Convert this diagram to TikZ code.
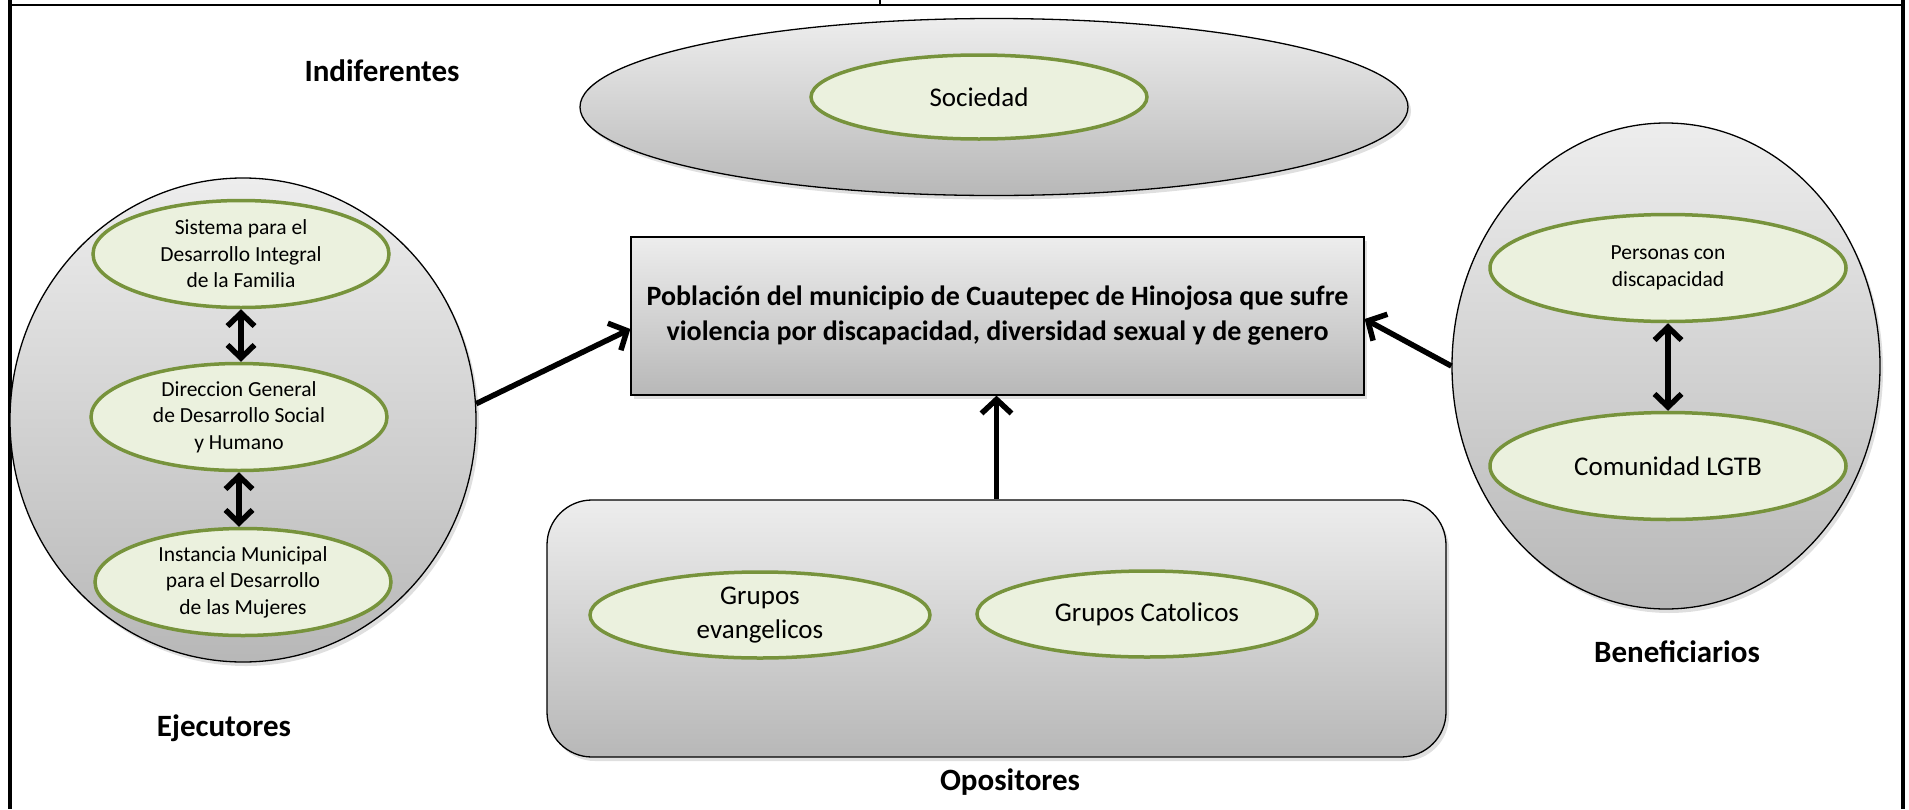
\documentclass[tikz,border=0pt]{standalone}
\usepackage{fontspec}
\setmainfont{Carlito}
\usetikzlibrary{arrows.meta}
\usetikzlibrary{shapes.geometric}
\usetikzlibrary{shadows}

\definecolor{hojaverde}{HTML}{EBF1DE}
\definecolor{bordeverde}{HTML}{77933C}

\tikzset{
  grupo/.style={draw=black, line width=1.3pt, top color=black!7, bottom color=black!28,
    drop shadow={opacity=0.25, shadow xshift=3pt, shadow yshift=-4pt}},
  actor/.style={ellipse, draw=bordeverde, line width=3.5pt, fill=hojaverde, inner sep=0pt,
    align=center, font=\fontsize{21.5}{26.5}\selectfont},
  titulo/.style={font=\fontsize{31}{36}\selectfont\bfseries},
  flecha/.style={line width=5.5pt, -{Straight Barb[length=14pt,width=30pt]}},
  dobleflecha/.style={line width=5.5pt,
    {Straight Barb[length=13pt,width=27pt]}-{Straight Barb[length=13pt,width=27pt]}}
}

\begin{document}
\begin{tikzpicture}[x=1pt,y=1pt]
  \useasboundingbox (0,0) rectangle (1909,-809);
  % marco
  \draw[line width=4pt] (10,0) -- (10,-809);
  \draw[line width=4pt] (1903,0) -- (1903,-809);
  \draw[line width=2pt] (10,-5) -- (1903,-5);
  \draw[line width=2pt] (880,0) -- (880,-6);

  % indiferentes
  \node[grupo, ellipse, minimum width=828pt, minimum height=177pt] (indif) at (994,-107) {};
  \node[actor, minimum width=336pt, minimum height=84pt, font=\fontsize{27}{32}\selectfont] (sociedad) at (979,-97) {Sociedad};
  \node[titulo] (lindif) at (382,-71) {Indiferentes};

  % ejecutores
  \node[grupo, ellipse, minimum width=466pt, minimum height=484pt] (ejec) at (243,-420) {};
  \node[actor, minimum width=296pt, minimum height=107pt] (dif) at (241,-254) {Sistema para el\\Desarrollo Integral\\de la Familia};
  \node[actor, minimum width=296pt, minimum height=107pt] (dgds) at (239,-417) {Direccion General\\de Desarrollo Social\\y Humano};
  \node[actor, minimum width=296pt, minimum height=107pt] (imm) at (243,-582) {Instancia Municipal\\para el Desarrollo\\de las Mujeres};
  \draw[dobleflecha] (dif.south) -- (dif.south |- dgds.north);
  \draw[dobleflecha] (dgds.south) -- (dgds.south |- imm.north);
  \node[titulo] (lejec) at (224,-728) {Ejecutores};

  % beneficiarios
  \node[grupo, ellipse, minimum width=428pt, minimum height=486pt] (benef) at (1666,-366) {};
  \node[actor, minimum width=356pt, minimum height=107pt] (discap) at (1668,-268) {Personas con\\discapacidad};
  \node[actor, minimum width=356pt, minimum height=107pt, font=\fontsize{27}{32}\selectfont] (lgtb) at (1668,-466) {Comunidad LGTB};
  \draw[dobleflecha] (discap.south) -- (lgtb.north);
  \node[titulo] (lbenef) at (1677,-652) {Beneficiarios};

  % poblacion objetivo
  \node[grupo, rectangle, minimum width=733pt, minimum height=158pt, align=center,
    font=\fontsize{28}{35}\selectfont\bfseries] (poblacion) at (997.5,-316)
    {Población del municipio de Cuautepec de Hinojosa que sufre\\violencia por discapacidad, diversidad sexual y de genero};

  % opositores
  \node[grupo, rectangle, rounded corners=45pt, minimum width=899pt, minimum height=257pt] (opos) at (996.5,-628.5) {};
  \node[actor, minimum width=340pt, minimum height=86pt, font=\fontsize{27}{34}\selectfont] (evang) at (760,-615) {Grupos\\evangelicos};
  \node[actor, minimum width=340pt, minimum height=86pt, font=\fontsize{27}{34}\selectfont] (catol) at (1147,-614) {Grupos Catolicos};
  \node[titulo] (lopos) at (1010,-782) {Opositores};

  \draw[flecha] (ejec.4) -- ([yshift=-13pt]poblacion.west);
  \draw[flecha] (benef.west) -- ([yshift=-3pt]poblacion.east);
  \draw[flecha] (opos.north) -- (opos.north |- poblacion.south);
\end{tikzpicture}
\end{document}
